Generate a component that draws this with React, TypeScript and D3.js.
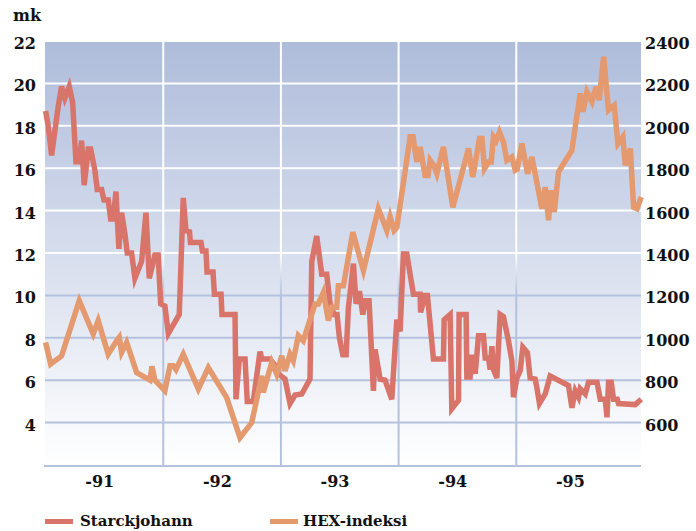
import React from "react";
import * as d3 from "d3";

// Starckjohann share price (mk, left axis) and HEX index (right axis), 1991-1995
// dates are decimal years

const starckDates = [
  1991.0, 1991.022, 1991.051, 1991.107, 1991.136, 1991.164, 1991.201, 1991.23, 1991.258, 1991.286,
  1991.306, 1991.328, 1991.362, 1991.383, 1991.419, 1991.439, 1991.476, 1991.496, 1991.532, 1991.553,
  1991.575, 1991.598, 1991.623, 1991.646, 1991.674, 1991.694, 1991.731, 1991.759, 1991.816, 1991.853,
  1991.881, 1991.929, 1991.957, 1991.978, 1992.014, 1992.043, 1992.136, 1992.17, 1992.193, 1992.223,
  1992.231, 1992.321, 1992.333, 1992.363, 1992.372, 1992.423, 1992.435, 1992.491, 1992.499, 1992.61,
  1992.618, 1992.646, 1992.695, 1992.714, 1992.765, 1992.822, 1992.837, 1992.907, 1992.95, 1992.978,
  1993.035, 1993.077, 1993.12, 1993.177, 1993.247, 1993.262, 1993.304, 1993.347, 1993.389, 1993.418,
  1993.452, 1993.477, 1993.497, 1993.526, 1993.554, 1993.573, 1993.616, 1993.639, 1993.667, 1993.696,
  1993.715, 1993.749, 1993.786, 1993.8, 1993.843, 1993.885, 1993.942, 1993.985, 1994.013, 1994.041,
  1994.07, 1994.126, 1994.183, 1994.187, 1994.225, 1994.245, 1994.296, 1994.381, 1994.387, 1994.438,
  1994.452, 1994.509, 1994.514, 1994.574, 1994.58, 1994.608, 1994.622, 1994.651, 1994.679, 1994.721,
  1994.736, 1994.764, 1994.778, 1994.793, 1994.806, 1994.835, 1994.863, 1994.891, 1994.934, 1994.963,
  1994.976, 1995.005, 1995.033, 1995.056, 1995.095, 1995.118, 1995.161, 1995.175, 1995.197, 1995.246,
  1995.288, 1995.444, 1995.473, 1995.501, 1995.529, 1995.543, 1995.586, 1995.614, 1995.686, 1995.714,
  1995.756, 1995.771, 1995.784, 1995.807, 1995.827, 1995.858, 1995.869, 1996.011, 1996.062,
];
const starckValues = [
  18.7, 18.0, 16.6, 18.9, 19.85, 19.3, 19.85, 19.1, 16.3, 16.3,
  17.3, 15.2, 16.9, 16.9, 15.9, 15.0, 15.0, 14.5, 14.5, 13.6,
  13.6, 14.9, 12.2, 13.9, 12.9, 12.0, 12.0, 10.8, 11.6, 13.9,
  10.8, 11.9, 11.9, 9.6, 9.5, 8.2, 9.1, 14.6, 13.05, 13.0,
  12.5, 12.5, 12.1, 12.1, 11.1, 11.1, 10.05, 10.05, 9.1, 9.1,
  5.1, 7.0, 7.0, 5.0, 5.0, 7.35, 7.0, 7.0, 6.7, 6.3,
  6.05, 4.9, 5.3, 5.35, 6.05, 11.6, 12.8, 11.0, 11.0, 9.6,
  9.1, 9.1, 8.0, 7.2, 7.2, 9.4, 11.5, 9.6, 10.2, 9.1,
  9.75, 9.75, 5.5, 7.45, 6.05, 6.0, 5.1, 8.85, 8.3, 11.95,
  11.95, 10.05, 10.05, 9.2, 10.0, 10.0, 7.0, 7.0, 8.85, 9.1,
  4.65, 5.05, 9.1, 9.1, 6.15, 6.15, 7.2, 6.3, 8.1, 8.1,
  7.05, 7.05, 6.5, 7.6, 6.5, 6.1, 9.1, 9.0, 7.85, 6.9,
  5.2, 6.1, 6.45, 7.55, 7.3, 6.1, 6.05, 5.65, 4.9, 5.35,
  6.2, 5.75, 4.7, 5.5, 5.2, 5.6, 5.35, 5.9, 5.9, 5.1,
  5.1, 4.25, 5.9, 5.9, 5.1, 5.1, 4.9, 4.85, 5.1,
];

const hexDates = [
  1991.0, 1991.043, 1991.136, 1991.286, 1991.405, 1991.447, 1991.532, 1991.604, 1991.626, 1991.646,
  1991.689, 1991.774, 1991.887, 1991.904, 1991.929, 1992.014, 1992.057, 1992.085, 1992.108, 1992.17,
  1992.298, 1992.383, 1992.539, 1992.652, 1992.752, 1992.837, 1992.85, 1992.922, 1992.964, 1993.007,
  1993.035, 1993.077, 1993.105, 1993.148, 1993.19, 1993.29, 1993.318, 1993.361, 1993.403, 1993.432,
  1993.474, 1993.488, 1993.531, 1993.611, 1993.701, 1993.828, 1993.9, 1993.928, 1993.962, 1993.985,
  1994.098, 1994.123, 1994.155, 1994.183, 1994.225, 1994.251, 1994.268, 1994.302, 1994.325, 1994.381,
  1994.461, 1994.594, 1994.631, 1994.687, 1994.709, 1994.73, 1994.764, 1994.787, 1994.806, 1994.829,
  1994.857, 1994.891, 1994.92, 1994.963, 1994.991, 1995.008, 1995.048, 1995.096, 1995.133, 1995.218,
  1995.246, 1995.274, 1995.297, 1995.323, 1995.359, 1995.473, 1995.543, 1995.566, 1995.6, 1995.643,
  1995.679, 1995.705, 1995.742, 1995.784, 1995.832, 1995.864, 1995.906, 1995.926, 1995.969, 1995.997,
  1996.026, 1996.062,
];
const hexValues = [
  978, 876, 915, 1175, 1018, 1081, 923, 986, 1002, 931,
  978, 836, 800, 865, 800, 750, 868, 868, 850, 923,
  758, 860, 718, 529, 600, 821, 742, 884, 829, 915,
  844, 923, 892, 1010, 986, 1160, 1160, 1215, 1081, 1144,
  1144, 1246, 1246, 1498, 1317, 1609, 1506, 1570, 1506, 1520,
  1948, 1948, 1830, 1900, 1766, 1766, 1837, 1810, 1774, 1900,
  1616, 1893, 1758, 1940, 1940, 1798, 1829, 1829, 1948, 1930,
  1971, 1924, 1837, 1853, 1790, 1795, 1916, 1774, 1853, 1609,
  1711, 1554, 1696, 1593, 1782, 1885, 2153, 2066, 2160, 2113,
  2184, 2121, 2326, 2074, 2097, 1916, 1948, 1814, 1893, 1616,
  1609, 1664,
];

const years = [1991, 1992, 1993, 1994, 1995];
const yearLabels = ["-91", "-92", "-93", "-94", "-95"];
const leftTicks = [4, 6, 8, 10, 12, 14, 16, 18, 20, 22];
const rightTicks = [600, 800, 1000, 1200, 1400, 1600, 1800, 2000, 2200, 2400];

const W = 696, H = 531;
const plot = { left: 45, right: 641, top: 41, bottom: 465 };
const FONT = "'DejaVu Serif', 'Liberation Serif', serif";
const RED = "#d9746b";
const ORANGE = "#e4996f";
const GRID_BLUE = "#b4c2de";

export default function App() {
  const x = d3.scaleLinear().domain([1990.995, 1996.06]).range([plot.left, plot.right]);
  const yL = d3.scaleLinear().domain([2, 22]).range([plot.bottom, plot.top]);
  const yR = d3.scaleLinear().domain([400, 2400]).range([plot.bottom, plot.top]);

  const starck = starckDates.map((d, i) => [d, starckValues[i]] as [number, number]);
  const hex = hexDates.map((d, i) => [d, hexValues[i]] as [number, number]);

  const lineL = d3.line<[number, number]>().x((d) => x(d[0])).y((d) => yL(d[1]));
  const lineR = d3.line<[number, number]>().x((d) => x(d[0])).y((d) => yR(d[1]));

  return (
    <div style={{ position: "absolute", left: 0, top: 0 }}>
      <svg width={W} height={H} style={{ display: "block" }}>
        <defs>
          <linearGradient id="bg" x1="0" y1="0" x2="0" y2="1">
            <stop offset="0" stopColor="#aebcdb" />
            <stop offset="1" stopColor="#ffffff" />
          </linearGradient>
          <linearGradient id="grid" gradientUnits="userSpaceOnUse" x1="0" y1={plot.top} x2="0" y2={plot.bottom}>
            <stop offset="0" stopColor="#ffffff" />
            <stop offset="0.5" stopColor="#ffffff" />
            <stop offset="0.6" stopColor={GRID_BLUE} />
            <stop offset="1" stopColor={GRID_BLUE} />
          </linearGradient>
        </defs>

        <rect
          x={plot.left}
          y={plot.top}
          width={plot.right - plot.left}
          height={plot.bottom - plot.top}
          fill="url(#bg)"
        />

        {/* horizontal grid */}
        {leftTicks.map((t) => (
          <line
            key={"h" + t}
            x1={plot.left}
            x2={plot.right}
            y1={yL(t)}
            y2={yL(t)}
            stroke="url(#grid)"
            strokeWidth={2}
          />
        ))}
        {/* year separators */}
        {years.slice(1).map((yr) => (
          <line
            key={"v" + yr}
            x1={x(yr)}
            x2={x(yr)}
            y1={plot.top}
            y2={plot.bottom + 1}
            stroke="url(#grid)"
            strokeWidth={2}
          />
        ))}
        <line
          x1={plot.left - 1}
          x2={plot.right}
          y1={plot.bottom + 1}
          y2={plot.bottom + 1}
          stroke={GRID_BLUE}
          strokeWidth={2}
        />

        <path d={lineL(starck) ?? ""} fill="none" stroke={RED} strokeWidth={5.5} strokeLinejoin="miter" />
        <path d={lineR(hex) ?? ""} fill="none" stroke={ORANGE} strokeWidth={5.5} strokeLinejoin="miter" />

        <g fontFamily={FONT} fontWeight="bold" fontSize={16} fill="#111">
          <text x={13} y={21}>mk</text>
          {leftTicks.map((t) => (
            <text key={"l" + t} x={36} y={yL(t) + 8} textAnchor="end">
              {t}
            </text>
          ))}
          {rightTicks.map((t) => (
            <text key={"r" + t} x={645} y={yR(t) + 8}>
              {t}
            </text>
          ))}
          {years.map((yr, i) => (
            <text key={"x" + yr} x={x(yr + 0.46)} y={487} textAnchor="middle">
              {yearLabels[i]}
            </text>
          ))}
        </g>

        {/* legend */}
        <g fontFamily={FONT} fontWeight="bold" fontSize={15} fill="#111">
          <line x1={45} x2={73} y1={521.5} y2={521.5} stroke={RED} strokeWidth={5} />
          <text x={80} y={526}>Starckjohann</text>
          <line x1={270} x2={298} y1={521.5} y2={521.5} stroke={ORANGE} strokeWidth={5} />
          <text x={303} y={526}>HEX-indeksi</text>
        </g>
      </svg>
    </div>
  );
}
